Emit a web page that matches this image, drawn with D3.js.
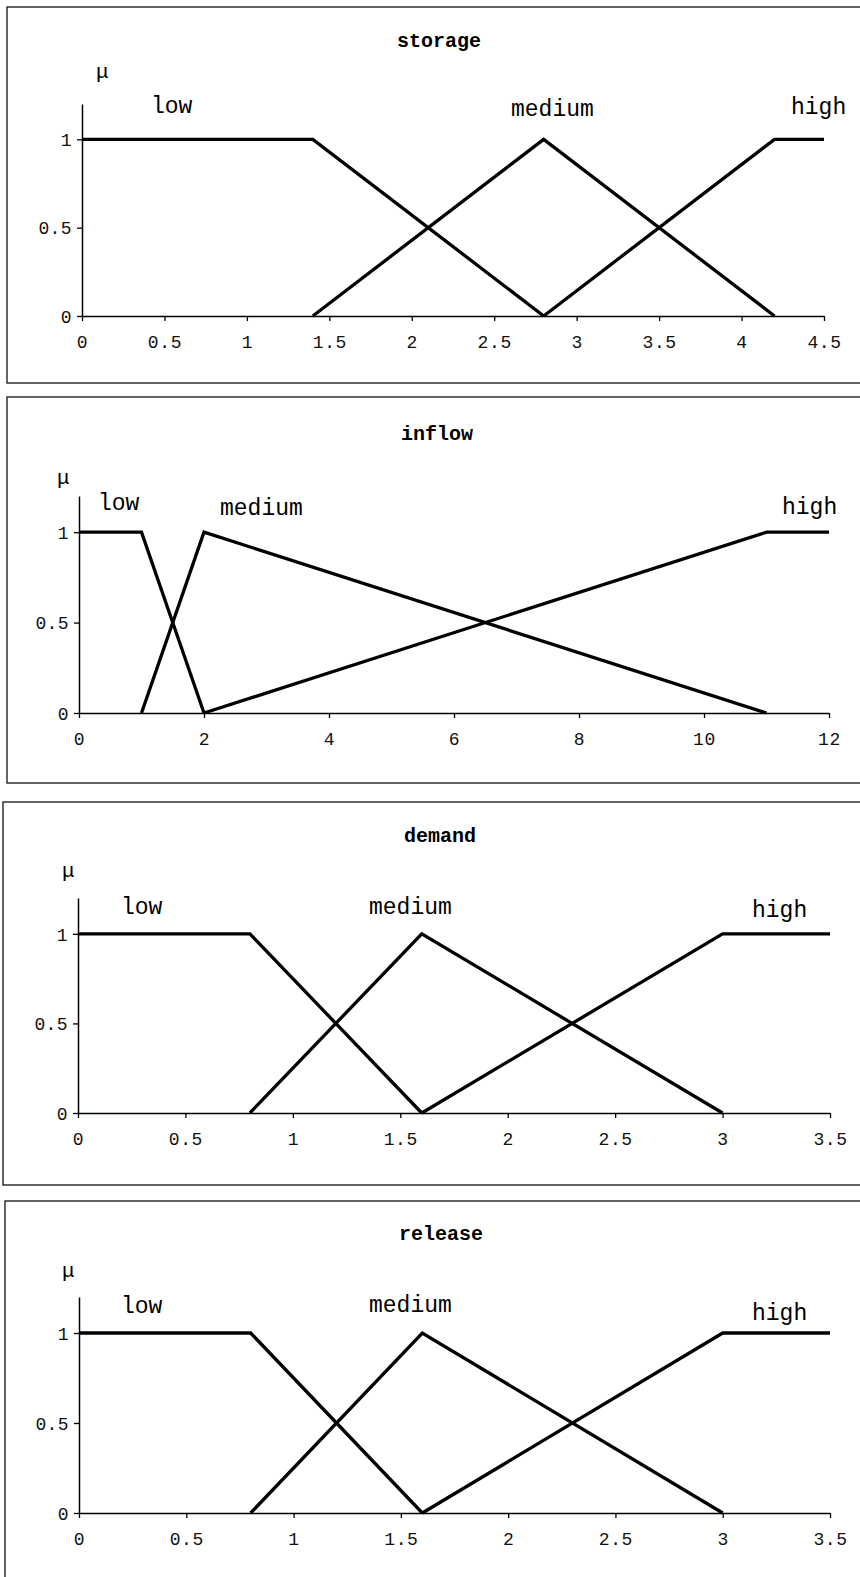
<!DOCTYPE html>
<html><head><meta charset="utf-8">
<script src="https://cdn.jsdelivr.net/npm/d3@7"></script>
<style>
body{margin:0;background:#fff}
svg{display:block}
</style>
</head><body>
<svg id="c" width="860" height="1577"></svg>
<script>
// ---------- data ----------
const titles = ["storage", "inflow", "demand", "release"];
const setNames = ["low", "medium", "high"];
const yLabel = "\u03bc";
const yTicks = [0, 0.5, 1];

const storageDomain = [0, 4.5];
const storageTicks = [0, 0.5, 1, 1.5, 2, 2.5, 3, 3.5, 4, 4.5];
const storageLow = [[0, 1], [1.4, 1], [2.8, 0]];
const storageMedium = [[1.4, 0], [2.8, 1], [4.2, 0]];
const storageHigh = [[2.8, 0], [4.2, 1], [4.5, 1]];

const inflowDomain = [0, 12];
const inflowTicks = [0, 2, 4, 6, 8, 10, 12];
const inflowLow = [[0, 1], [1, 1], [2, 0]];
const inflowMedium = [[1, 0], [2, 1], [11, 0]];
const inflowHigh = [[2, 0], [11, 1], [12, 1]];

const demandDomain = [0, 3.5];
const demandTicks = [0, 0.5, 1, 1.5, 2, 2.5, 3, 3.5];
const demandLow = [[0, 1], [0.8, 1], [1.6, 0]];
const demandMedium = [[0.8, 0], [1.6, 1], [3, 0]];
const demandHigh = [[1.6, 0], [3, 1], [3.5, 1]];

const releaseDomain = [0, 3.5];
const releaseTicks = [0, 0.5, 1, 1.5, 2, 2.5, 3, 3.5];
const releaseLow = [[0, 1], [0.8, 1], [1.6, 0]];
const releaseMedium = [[0.8, 0], [1.6, 1], [3, 0]];
const releaseHigh = [[1.6, 0], [3, 1], [3.5, 1]];

// ---------- layout ----------
const panels = [
  {title: titles[0], domain: storageDomain, ticks: storageTicks, sets: [storageLow, storageMedium, storageHigh],
   frame: [7, 7, 383], x0: 82, x1: 824, yZero: 316, yTop: 104, titlePos: [439, 47], mu: [96, 78],
   labels: [[151, 113], [511, 116], [791, 114]]},
  {title: titles[1], domain: inflowDomain, ticks: inflowTicks, sets: [inflowLow, inflowMedium, inflowHigh],
   frame: [7, 397, 783], x0: 79, x1: 829, yZero: 713, yTop: 496, titlePos: [437, 440], mu: [57, 484],
   labels: [[98, 510], [220, 515], [782, 514]]},
  {title: titles[2], domain: demandDomain, ticks: demandTicks, sets: [demandLow, demandMedium, demandHigh],
   frame: [3, 802, 1185], x0: 78, x1: 830, yZero: 1113, yTop: 898, titlePos: [440, 842], mu: [62, 877],
   labels: [[121, 914], [369, 914], [752, 917]]},
  {title: titles[3], domain: releaseDomain, ticks: releaseTicks, sets: [releaseLow, releaseMedium, releaseHigh],
   frame: [5, 1201, 1620], x0: 79, x1: 830, yZero: 1513, yTop: 1297, titlePos: [441, 1240], mu: [62, 1277],
   labels: [[121, 1313], [369, 1312], [752, 1320]]}
];

const svg = d3.select("#c");
const FONT = "'Liberation Mono', 'Courier New', monospace";

panels.forEach(p => {
  const g = svg.append("g");
  // frame (right side runs off the page)
  g.append("rect")
    .attr("x", p.frame[0]).attr("y", p.frame[1])
    .attr("width", 900).attr("height", p.frame[2] - p.frame[1])
    .attr("fill", "none").attr("stroke", "#222").attr("stroke-width", 1.4);

  const x = d3.scaleLinear().domain(p.domain).range([p.x0, p.x1]);
  const y = d3.scaleLinear().domain([0, 1.2]).range([p.yZero, p.yTop]);

  // x axis
  const xa = g.append("g").attr("transform", `translate(0,${p.yZero})`)
    .call(d3.axisBottom(x).tickValues(p.ticks).tickSize(5).tickSizeOuter(0).tickFormat(d3.format("")));
  xa.select(".domain").attr("stroke", "#000").attr("stroke-width", 1.5);
  xa.selectAll(".tick line").attr("stroke", "#000").attr("stroke-width", 1.3);
  xa.selectAll(".tick text").attr("y", 32).attr("dy", null)
    .attr("font-family", FONT).attr("font-size", 18).attr("letter-spacing", 0.6).attr("fill", "#111");

  // y axis
  const ya = g.append("g").attr("transform", `translate(${p.x0},0)`)
    .call(d3.axisLeft(y).tickValues(yTicks).tickSize(5).tickSizeOuter(0).tickFormat(d3.format("")));
  ya.select(".domain").attr("stroke", "#000").attr("stroke-width", 1.5);
  ya.selectAll(".tick line").attr("stroke", "#000").attr("stroke-width", 1.3);
  ya.selectAll(".tick text").attr("x", -10).attr("dy", "0.35em")
    .attr("font-family", FONT).attr("font-size", 18).attr("letter-spacing", 0.4).attr("fill", "#111");

  // membership functions
  const line = d3.line().x(d => x(d[0])).y(d => y(d[1]));
  g.selectAll("path.mf").data(p.sets).join("path")
    .attr("class", "mf")
    .attr("d", line)
    .attr("fill", "none").attr("stroke", "#000").attr("stroke-width", 3.3)
    .attr("stroke-linejoin", "miter");

  // title
  g.append("text").attr("x", p.titlePos[0]).attr("y", p.titlePos[1])
    .attr("text-anchor", "middle").attr("font-family", FONT)
    .attr("font-weight", "bold").attr("font-size", 20).attr("fill", "#000")
    .text(p.title);

  // mu
  g.append("text").attr("x", p.mu[0]).attr("y", p.mu[1])
    .attr("font-family", FONT).attr("font-size", 21).attr("fill", "#000")
    .text(yLabel);

  // set labels
  g.selectAll("text.lbl").data(setNames).join("text")
    .attr("class", "lbl")
    .attr("x", (d, i) => p.labels[i][0]).attr("y", (d, i) => p.labels[i][1])
    .attr("font-family", FONT).attr("font-size", 23).attr("fill", "#000")
    .text(d => d);
});
</script>
</body></html>
